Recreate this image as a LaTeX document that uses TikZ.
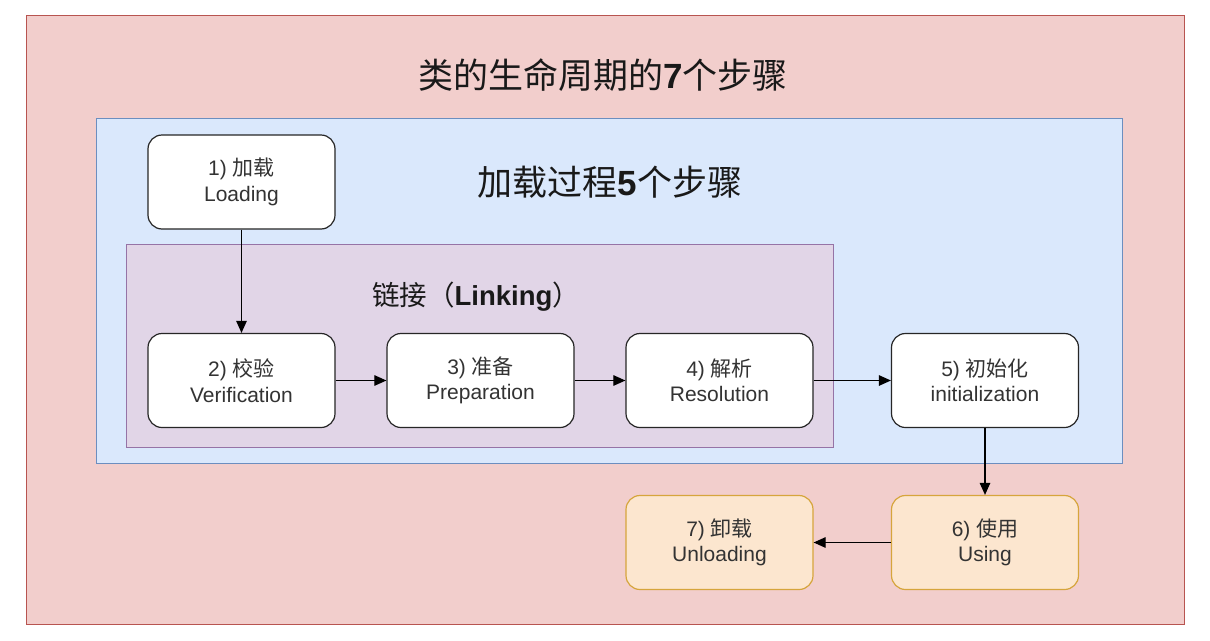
\documentclass[tikz,border=0pt]{standalone}
\usepackage{fontspec}
\setmainfont{Liberation Sans}
\newfontfamily\cjk{Noto Sans CJK SC}
\usetikzlibrary{arrows.meta}
\definecolor{outerfill}{HTML}{F2CECC}
\definecolor{outerdraw}{HTML}{B85450}
\definecolor{bluefill}{HTML}{DAE8FC}
\definecolor{bluedraw}{HTML}{6C8EBF}
\definecolor{purpfill}{HTML}{E1D5E7}
\definecolor{purpdraw}{HTML}{9673A6}
\definecolor{orgfill}{HTML}{FCE6CF}
\definecolor{orgdraw}{HTML}{D6A53C}
\definecolor{txt}{HTML}{333333}
\begin{document}
\begin{tikzpicture}[x=1pt,y=-1pt,
  stepbox/.style={draw=black!85,line width=1.2pt,fill=white,rounded corners=14pt,
    minimum width=187pt,minimum height=94pt,inner sep=0pt,align=center,
    text=txt,font=\fontsize{21}{25.5}\selectfont},
  usebox/.style={stepbox,draw=orgdraw,fill=orgfill},
  conn/.style={line width=1.1pt,draw=black,-{Triangle[length=12pt,width=10.5pt]}},
  lbl/.style={inner sep=0pt,text=black!90}
]
\useasboundingbox (0,0) rectangle (1210,640);
\fill[white] (0,0) rectangle (1210,640);
\draw[fill=outerfill,draw=outerdraw,line width=1pt] (26,15) rectangle (1184,624);
\draw[fill=bluefill,draw=bluedraw,line width=1pt] (96,118) rectangle (1122,463);
\draw[fill=purpfill,draw=purpdraw,line width=1pt] (126,244) rectangle (833,447);

\node[lbl,font=\fontsize{35}{40}\selectfont] (title) at (603,75)
  {{\cjk 类的生命周期的}\textbf{7}{\cjk 个步骤}};
\node[lbl,font=\fontsize{35}{40}\selectfont] (load5) at (610,182)
  {{\cjk 加载过程}\textbf{5}{\cjk 个步骤}};
\node[lbl,font=\fontsize{27.5}{32}\selectfont] (linking) at (476,297)
  {{\cjk 链接（}\textbf{Linking}{\cjk ）}};

\node[stepbox] (n1) at (241.5,182) {1) {\cjk 加载}\\Loading};
\node[stepbox] (n2) at (241.5,380.5) {2) {\cjk 校验}\\Verification};
\node[stepbox] (n3) at (480.5,380.5) {3) {\cjk 准备}\\Preparation};
\node[stepbox] (n4) at (719.5,380.5) {4) {\cjk 解析}\\Resolution};
\node[stepbox] (n5) at (985,380.5) {5) {\cjk 初始化}\\initialization};
\node[usebox] (n6) at (985,542.5) {6) {\cjk 使用}\\Using};
\node[usebox] (n7) at (719.5,542.5) {7) {\cjk 卸载}\\Unloading};

\draw[conn] (n1) -- (n2);
\draw[conn] (n2) -- (n3);
\draw[conn] (n3) -- (n4);
\draw[conn] (n4) -- (n5);
\draw[conn] (n5) -- (n6);
\draw[conn] (n6) -- (n7);
\end{tikzpicture}
\end{document}
